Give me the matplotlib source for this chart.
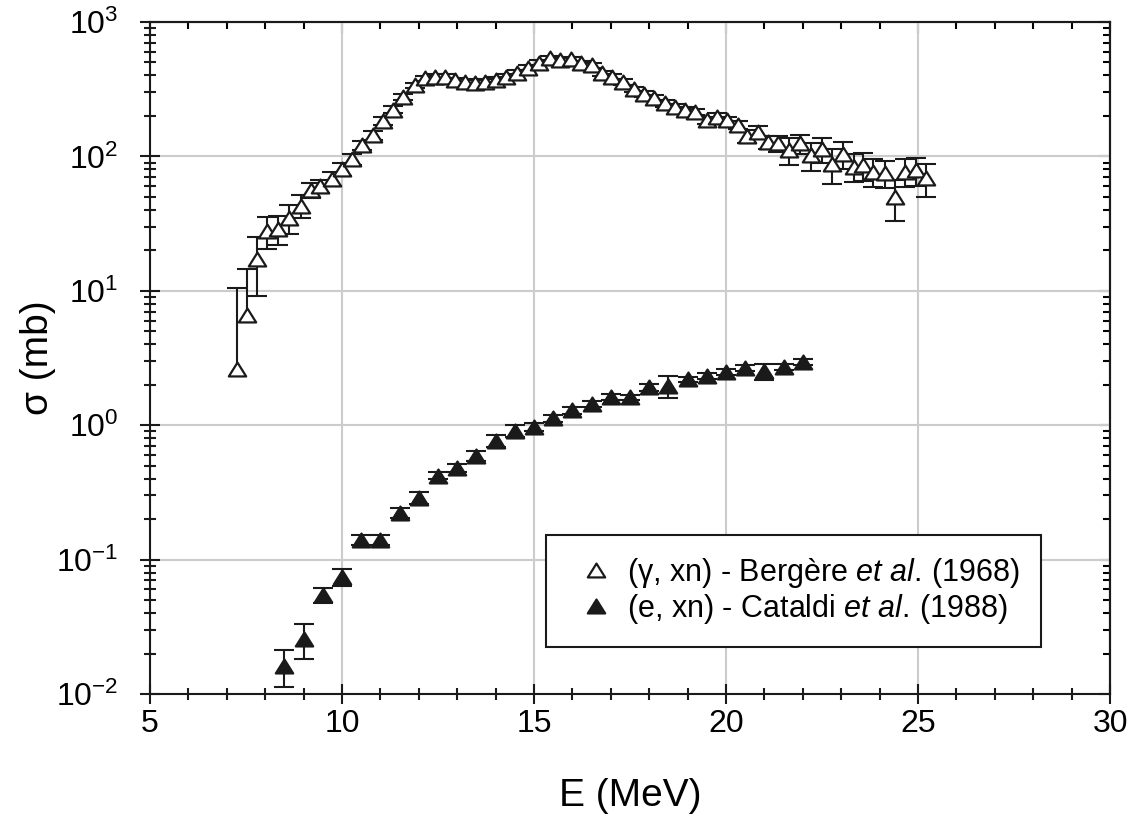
import numpy as np
import matplotlib
matplotlib.use('Agg')
from matplotlib import pyplot as plt
from matplotlib.path import Path
from matplotlib.ticker import MultipleLocator, LogLocator, NullFormatter

plt.rcParams['font.family'] = ['Liberation Sans', 'DejaVu Sans']
plt.rcParams['mathtext.fontset'] = 'custom'
plt.rcParams['mathtext.rm'] = 'Liberation Sans'
plt.rcParams['mathtext.it'] = 'Liberation Sans:italic'
plt.rcParams['axes.unicode_minus'] = False

# (gamma, xn) - Bergere et al. (1968)
e_gxn = [7.26, 7.53, 7.79, 8.05, 8.34, 8.63, 8.92, 9.18, 9.44, 9.73, 9.99, 10.25,
         10.51, 10.80, 11.06, 11.32, 11.60, 11.90, 12.16, 12.42, 12.68, 12.94, 13.20,
         13.46, 13.72, 14.00, 14.28, 14.55, 14.85, 15.14, 15.42, 15.68, 15.96, 16.22,
         16.50, 16.76, 17.02, 17.31, 17.60, 17.86, 18.12, 18.40, 18.67, 18.93, 19.20,
         19.50, 19.76, 20.03, 20.30, 20.55, 20.82, 21.10, 21.36, 21.63, 21.93, 22.20,
         22.49, 22.75, 23.04, 23.32, 23.58, 23.84, 24.14, 24.40, 24.66, 24.94, 25.21]
s_gxn = [2.6, 6.6, 17.1, 28, 29, 35, 43, 56, 60, 68, 81, 95,
         121, 144, 183, 223, 277, 338, 380, 390, 390, 369, 358,
         352, 358, 373, 392, 420, 456, 497, 535, 520, 526, 495,
         477, 414, 391, 358, 315, 290, 272, 248, 234, 223, 214,
         186, 197, 186, 171, 141, 152, 128, 125, 111, 125, 102,
         113, 88, 105, 84, 86, 77, 75, 50, 77, 79, 69]
err_gxn = [7.9, 7.9, 8, 7.5, 7, 8.5, 8.5, 7, 7, 8, 9, 9,
           10, 11, 12, 13, 15, 16, 17, 17, 17, 17, 16,
           16, 16, 17, 18, 19, 20, 22, 23, 22, 22, 21,
           20, 19, 18, 17, 16, 15, 14, 13, 13, 12, 12,
           12, 12, 12, 12, 15, 15, 15, 18, 25, 20, 24,
           24, 26, 24, 20, 20, 18, 17, 17, 18, 19, 19]

# (e, xn) - Cataldi et al. (1988)
e_exn = [8.5, 9.0, 9.5, 10.0, 10.5, 11.0, 11.5, 12.0, 12.5, 13.0, 13.5, 14.0, 14.5, 15.0,
         15.5, 16.0, 16.5, 17.0, 17.5, 18.0, 18.5, 19.0, 19.5, 20.0, 20.5, 21.0, 21.5, 22.0]
s_exn = [0.0162, 0.0257, 0.0546, 0.0744, 0.141, 0.141, 0.223, 0.288, 0.422, 0.482, 0.591,
         0.769, 0.913, 0.97, 1.13, 1.29, 1.44, 1.62, 1.61, 1.91, 1.96, 2.19, 2.34, 2.48,
         2.66, 2.51, 2.72, 2.94]
err_exn = [0.005, 0.0075, 0.0068, 0.011, 0.012, 0.012, 0.02, 0.03, 0.025, 0.03, 0.05,
           0.08, 0.09, 0.06, 0.07, 0.07, 0.08, 0.08, 0.08, 0.1, 0.37, 0.1, 0.12, 0.12,
           0.13, 0.34, 0.13, 0.15]

# slightly flattened triangle, closed so the open marker gets all three edges
tri = Path([(-1, -0.8), (1, -0.8), (0, 0.8), (-1, -0.8)], closed=True)

fig = plt.figure(figsize=(11.32, 8.26), dpi=100)
ax = fig.add_axes([0.1325, 0.1598, 0.8481, 0.8136])
ax.set_yscale('log')


def draw(e, s, err, face, label):
    e = np.array(e)
    s = np.array(s)
    err = np.array(err)
    lo = np.where(s - err > 0, err, 0)
    ax.errorbar(e, s, yerr=[lo, err], fmt='none', ecolor='#1a1a1a', elinewidth=1.5, zorder=2)
    ax.plot(e, s + err, '_', color='#1a1a1a', ms=14, mew=1.5, zorder=2)
    ok = s - err > 0
    ax.plot(e[ok], s[ok] - err[ok], '_', color='#1a1a1a', ms=14, mew=1.5, zorder=2)
    ax.plot(e, s, ls='none', marker=tri, ms=12.5, mfc=face, mec='#1a1a1a', mew=1.6,
            zorder=3, label=label)


draw(e_gxn, s_gxn, err_gxn, 'white', '(γ, xn) - Bergère $\\it{et\\ al.}\\,$(1968)')
draw(e_exn, s_exn, err_exn, '#1a1a1a', '(e, xn) - Cataldi $\\it{et\\ al.}\\,$(1988)')

ax.set_xlim(5, 30)
ax.set_ylim(1e-2, 1e3)
ax.xaxis.set_major_locator(MultipleLocator(5))
ax.xaxis.set_minor_locator(MultipleLocator(1))
ax.yaxis.set_major_locator(LogLocator(base=10, numticks=10))
ax.yaxis.set_minor_locator(LogLocator(base=10, subs=np.arange(2, 10), numticks=10))
ax.yaxis.set_minor_formatter(NullFormatter())
ax.grid(which='major', color='#cccccc', lw=1.5, zorder=0)
ax.set_axisbelow(True)

ax.tick_params(which='both', direction='inout', top=False, right=False, labelsize=23,
               width=1.5, color='#1a1a1a')
ax.tick_params(which='major', length=14, pad=4)
ax.tick_params(axis='y', which='major', pad=16)
ax.tick_params(which='minor', length=9)

secx = ax.secondary_xaxis('top')
secx.xaxis.set_minor_locator(MultipleLocator(1))
secx.tick_params(which='both', direction='in', labeltop=False, width=1.5)
secx.tick_params(which='major', length=8)
secx.tick_params(which='minor', length=5)
secy = ax.secondary_yaxis('right')
secy.tick_params(which='both', direction='in', labelright=False, width=1.5)
secy.tick_params(which='major', length=8)
secy.tick_params(which='minor', length=5)

for sp in list(ax.spines.values()) + [secx.spines['top'], secy.spines['right']]:
    sp.set_linewidth(1.5)
    sp.set_color('#1a1a1a')

ax.set_xlabel('E (MeV)', fontsize=28, labelpad=28)
ax.set_ylabel('σ (mb)', fontsize=28, labelpad=0)

leg = ax.legend(loc='upper left', bbox_to_anchor=(0.413, 0.237), fontsize=22,
                frameon=True, fancybox=False, framealpha=1, edgecolor='#1a1a1a',
                borderpad=0.7, handletextpad=0.1, handlelength=1.85, labelspacing=0.05,
                borderaxespad=0)
leg.get_frame().set_linewidth(1.5)

plt.savefig('out.png', dpi=100)
